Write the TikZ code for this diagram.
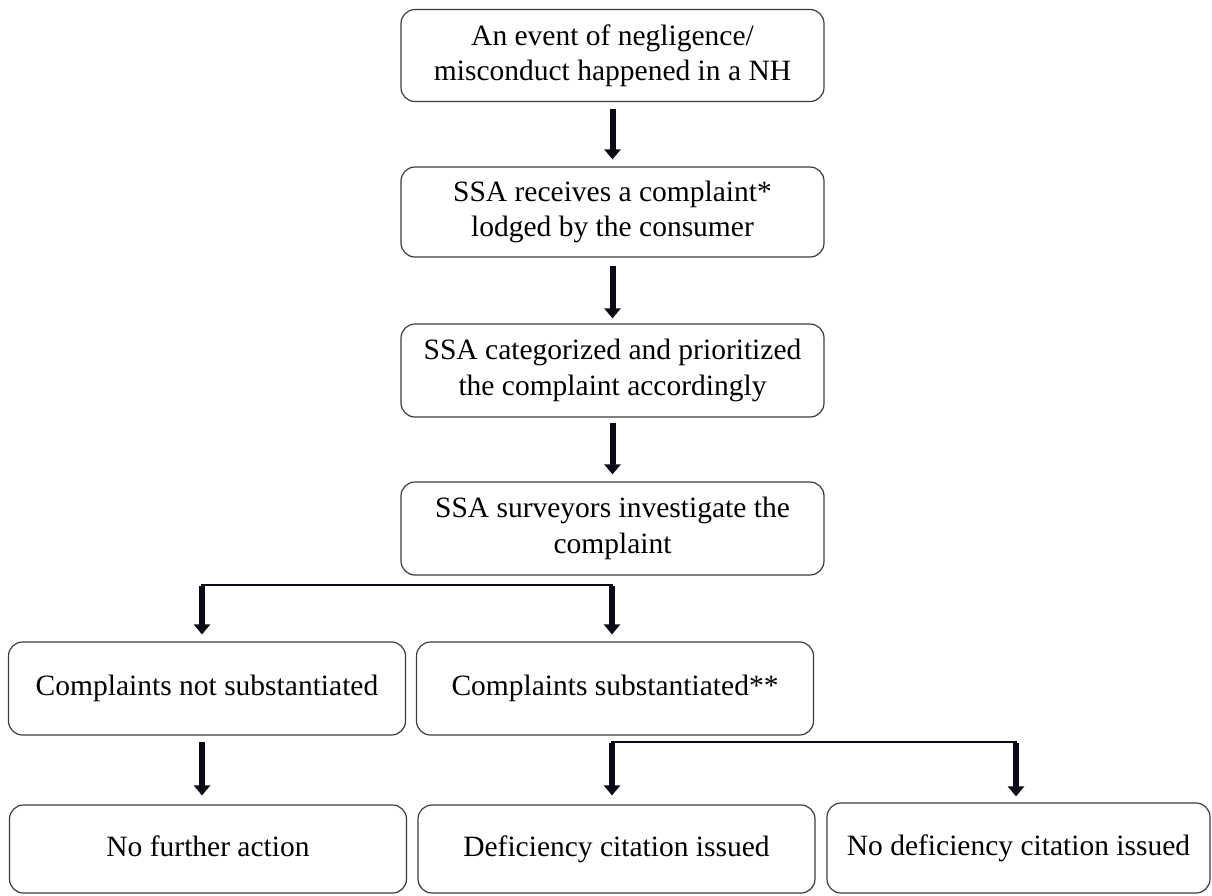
\documentclass[tikz,border=0pt]{standalone}
\usepackage{fontspec}
\setmainfont{Liberation Serif}
\usetikzlibrary{arrows.meta}
\definecolor{arrowcol}{RGB}{10,10,22}
\definecolor{boxcol}{RGB}{60,60,60}
\begin{document}
\begin{tikzpicture}[x=1pt,y=-1pt,
  box/.style={draw=boxcol, line width=1.2pt, rounded corners=14pt, align=center,
    font=\fontsize{29.5}{35.5}\selectfont, inner sep=0pt},
  mainbox/.style={box, minimum width=423pt, minimum height=92pt},
  lowbox/.style={box, minimum width=397pt},
  arr/.style={draw=arrowcol, line width=6pt, -{Triangle[width=16pt,length=10pt]}},
  hline/.style={draw=arrowcol, line width=2.4pt}]
\useasboundingbox (0,0) rectangle (1212,895);
\fill[white] (0,0) rectangle (1212,895);

\node[mainbox] (b1) at (612.5,55.5) {An event of negligence/\\misconduct happened in a NH};
\node[mainbox, minimum height=90pt] (b2) at (612.5,212) {SSA receives a complaint*\\lodged by the consumer};
\node[mainbox, minimum height=93pt] (b3) at (612.5,370.5) {SSA categorized and prioritized\\the complaint accordingly};
\node[mainbox, minimum height=93pt] (b4) at (612.5,528.5) {SSA surveyors investigate the\\complaint};

\node[lowbox, minimum height=93pt] (b5) at (207,688.5) {Complaints not substantiated};
\node[lowbox, minimum height=93pt] (b6) at (615,688.5) {Complaints substantiated**};

\node[lowbox, minimum height=88pt] (b7) at (208,849) {No further action\strut};
\node[lowbox, minimum height=88pt] (b8) at (616.5,849) {Deficiency citation issued\strut};
\node[box, minimum width=383pt, minimum height=90pt] (b9) at (1018.5,848) {No deficiency citation issued\strut};

\draw[arr, shorten <=7pt, shorten >=7pt] (b1.south) -- (b2.north);
\draw[arr, shorten <=8pt, shorten >=5pt] (b2.south) -- (b3.north);
\draw[arr, shorten <=5pt, shorten >=7pt] (b3.south) -- (b4.north);

\coordinate (s1) at (612,585);
\coordinate (s1l) at (202,585);
\draw[hline] ([xshift=-1.2pt]s1l) -- ([xshift=1.2pt]s1);
\draw[arr, shorten >=7pt] ([yshift=-1.2pt]s1l) -- (s1l |- b5.north);
\draw[arr, shorten >=7pt] ([yshift=-1.2pt]s1) -- (s1 |- b6.north);

\coordinate (s2) at (612,742);
\coordinate (s2r) at (1016,742);
\coordinate (s3) at (202,742);
\draw[hline] ([xshift=-1.2pt]s2) -- ([xshift=1.2pt]s2r);
\draw[arr, shorten >=9pt] ([yshift=-1.2pt]s2) -- (s2 |- b8.north);
\draw[arr, shorten >=6pt] ([yshift=-1.2pt]s2r) -- (s2r |- b9.north);
\draw[arr, shorten >=9pt] (s3) -- (s3 |- b7.north);
\end{tikzpicture}
\end{document}
